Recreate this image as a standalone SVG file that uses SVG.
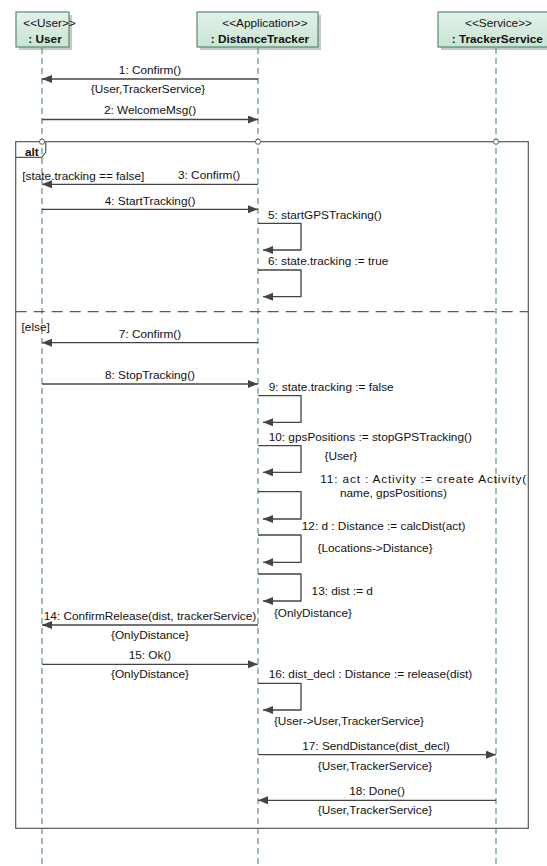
<svg xmlns="http://www.w3.org/2000/svg" width="547" height="866" viewBox="0 0 547 866">
<defs>
<linearGradient id="boxfill" x1="0" y1="0" x2="0" y2="1">
<stop offset="0" stop-color="#e2f2e9"/>
<stop offset="1" stop-color="#c9e4d4"/>
</linearGradient>
<marker id="ah" viewBox="0 0 10 8" refX="10" refY="4" markerWidth="10" markerHeight="8" markerUnits="userSpaceOnUse" orient="auto">
<path d="M0,0 L10,4 L0,8 z" fill="#444"/>
</marker>
</defs>
<style>
text{font-family:"Liberation Sans",Arial,sans-serif;font-size:11.8px;fill:#111}
.b{font-weight:bold}
.m{text-anchor:middle}
.box{fill:url(#boxfill);stroke:#5b8a74;stroke-width:1.2}
.shadow{fill:#9a9a9a;opacity:0.55}
.life{stroke:#4f8a70;stroke-width:1.1;stroke-dasharray:6,4;fill:none}
.msg{stroke:#444;stroke-width:1.3;fill:none;marker-end:url(#ah)}
.frame{stroke:#5a5a5a;stroke-width:1.2;fill:none}
.sep{stroke:#5a5a5a;stroke-width:1.2;stroke-dasharray:11,7;fill:none}
.dot{fill:#fff;stroke:#5a5a5a;stroke-width:1}
</style>
<rect width="547" height="866" fill="#fff"/>

<g id="lifeline-user">
<rect class="shadow" x="19" y="15" width="53" height="35"/>
<rect class="box" x="16" y="12" width="53" height="35"/>
<text x="23.3" y="26.5">&lt;&lt;User&gt;&gt;</text>
<text class="b" x="28.3" y="42.5">: User</text>
<line class="life" x1="42" y1="48" x2="42" y2="866"/>
</g>

<g id="lifeline-distancetracker">
<rect class="shadow" x="200" y="15" width="121" height="35"/>
<rect class="box" x="197" y="12" width="121" height="35"/>
<text x="222.3" y="26.5">&lt;&lt;Application&gt;&gt;</text>
<text class="b" x="210.7" y="42.5">: DistanceTracker</text>
<line class="life" x1="258" y1="48" x2="258" y2="866"/>
</g>

<g id="lifeline-trackerservice">
<rect class="shadow" x="441" y="15" width="112" height="35"/>
<rect class="box" x="438" y="12" width="112" height="35"/>
<text class="m" x="498.5" y="26.5">&lt;&lt;Service&gt;&gt;</text>
<text class="b" x="451.7" y="42.5">: TrackerService</text>
<line class="life" x1="496" y1="48" x2="496" y2="866"/>
</g>

<g id="alt-frame">
<rect class="frame" x="15.7" y="141.7" width="512.6" height="686.6"/>
<path class="frame" d="M15.7,157.3 H41.7 L45.7,152.3 V141.7"/>
<text class="b" x="25" y="155.5">alt</text>
<circle class="dot" cx="42" cy="141.7" r="2.6"/>
<circle class="dot" cx="258" cy="141.7" r="2.6"/>
<circle class="dot" cx="496" cy="141.7" r="2.6"/>
<line class="sep" x1="15.7" y1="311.7" x2="528.3" y2="311.7"/>
<text x="22.3" y="179.5">[state.tracking == false]</text>
<text x="21.6" y="330.5">[else]</text>
</g>

<g id="messages">
<path class="msg" d="M258,79 H42"/>
<text class="m" x="150" y="73.5">1: Confirm()</text>
<text class="m" x="148" y="92.5">{User,TrackerService}</text>

<path class="msg" d="M42,119.5 H258"/>
<text class="m" x="150" y="114">2: WelcomeMsg()</text>

<path class="msg" d="M258,184.3 H42"/>
<text x="178" y="179">3: Confirm()</text>

<path class="msg" d="M42,209.3 H258"/>
<text class="m" x="150" y="205">4: StartTracking()</text>

<path class="msg" d="M258,223.3 H301 V250 H263"/>
<text x="268" y="219">5: startGPSTracking()</text>

<path class="msg" d="M258,270 H301 V296.7 H263"/>
<text x="268" y="265">6: state.tracking := true</text>

<path class="msg" d="M258,342.7 H42"/>
<text class="m" x="150" y="337.5">7: Confirm()</text>

<path class="msg" d="M42,384 H258"/>
<text class="m" x="150" y="379">8: StopTracking()</text>

<path class="msg" d="M258,395.7 H301 V422.3 H263"/>
<text x="268.7" y="391">9: state.tracking := false</text>

<path class="msg" d="M258,445.7 H301 V472.3 H263"/>
<text x="268.7" y="441">10: gpsPositions := stopGPSTracking()</text>
<text x="324.5" y="460">{User}</text>

<path class="msg" d="M258,491.7 H301 V519 H263"/>
<text x="320.3" y="482.5" textLength="206" lengthAdjust="spacing">11: act : Activity := create Activity(</text>
<text x="340" y="496.5">name, gpsPositions)</text>

<path class="msg" d="M258,535 H301 V562.3 H263"/>
<text x="301.8" y="530">12: d : Distance := calcDist(act)</text>
<text x="317.5" y="551.5">{Locations-&gt;Distance}</text>

<path class="msg" d="M258,574 H301 V601 H263"/>
<text x="311.6" y="595">13: dist := d</text>
<text x="273.9" y="616.5">{OnlyDistance}</text>

<path class="msg" d="M258,625 H42"/>
<text class="m" x="150" y="620">14: ConfirmRelease(dist, trackerService)</text>
<text class="m" x="150" y="639">{OnlyDistance}</text>

<path class="msg" d="M42,664.3 H258"/>
<text class="m" x="150" y="659">15: Ok()</text>
<text class="m" x="150" y="678">{OnlyDistance}</text>

<path class="msg" d="M258,683.3 H301 V710 H263"/>
<text x="268.7" y="678">16: dist_decl : Distance := release(dist)</text>
<text x="273.9" y="725">{User-&gt;User,TrackerService}</text>

<path class="msg" d="M258,754.7 H496"/>
<text class="m" x="376" y="750">17: SendDistance(dist_decl)</text>
<text class="m" x="375" y="770">{User,TrackerService}</text>

<path class="msg" d="M496,800.3 H258"/>
<text class="m" x="377" y="795">18: Done()</text>
<text class="m" x="375" y="814">{User,TrackerService}</text>
</g>
</svg>
